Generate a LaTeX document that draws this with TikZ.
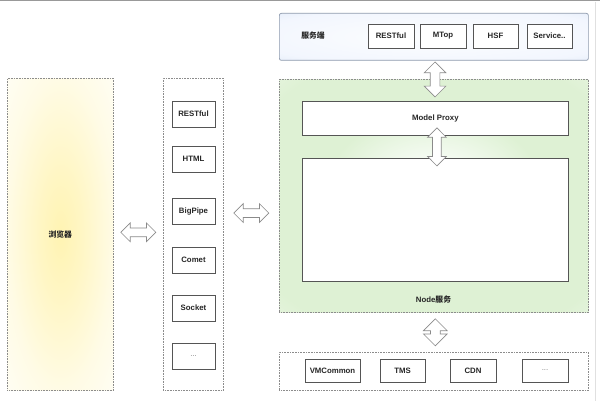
\documentclass[tikz,border=0pt]{standalone}
\usepackage{fontspec}
\setmainfont{Liberation Sans}
\newfontfamily\cjk{Noto Sans CJK SC}
\usetikzlibrary{shapes.arrows,calc}
\definecolor{boxline}{HTML}{555555}
\definecolor{dotline}{HTML}{8C8C8C}
\definecolor{arrowline}{HTML}{8A8A8A}
\definecolor{topline}{HTML}{8E9AAD}
\pgfdeclareradialshading{yellowglow}{\pgfpoint{0bp}{0bp}}{%
  rgb(0bp)=(1,0.955,0.7);rgb(10bp)=(1,0.965,0.77);rgb(25bp)=(1,0.985,0.9);rgb(38bp)=(1,0.996,0.965);rgb(50bp)=(1,1,0.985)}
\pgfdeclareradialshading{greenglow}{\pgfpoint{0bp}{0bp}}{%
  rgb(0bp)=(1,1,1);rgb(8bp)=(0.96,0.985,0.95);rgb(18bp)=(0.87,0.945,0.83);rgb(32bp)=(0.87,0.945,0.83);rgb(42bp)=(0.93,0.97,0.91);rgb(50bp)=(0.98,0.99,0.975)}
\pgfdeclareradialshading{blueglow}{\pgfpoint{0bp}{0bp}}{%
  rgb(0bp)=(0.99,0.995,1);rgb(30bp)=(0.95,0.965,0.995);rgb(42bp)=(0.87,0.91,0.97);rgb(50bp)=(0.83,0.88,0.95)}
\begin{document}
\begin{tikzpicture}[x=1pt,y=-1pt,
  every node/.style={font=\fontsize{7.8}{9}\selectfont\bfseries, text=black!85},
  smallbox/.style={draw=boxline, line width=0.8pt, fill=white, minimum width=43pt, minimum height=26pt, inner sep=0pt},
  rowbox/.style={draw=boxline, line width=0.8pt, fill=white, minimum width=46pt, minimum height=24pt, inner sep=0pt},
  bigbox/.style={draw=boxline, line width=0.8pt, fill=white, inner sep=0pt, anchor=north west},
  container/.style={draw=dotline, densely dotted, line width=0.6pt, inner sep=0pt, anchor=north west},
  harrow/.style={double arrow, draw=arrowline, fill=white, line width=0.7pt, inner sep=4pt, double arrow head extend=5pt, minimum height=35pt},
  varrow/.style={harrow, shape border rotate=90}
]
\useasboundingbox (0,0) rectangle (600,401);
\fill[white] (0,0) rectangle (600,401);
\draw[draw=black!40, line width=1.5pt] (0,0.75) -- (600,0.75);
\draw[draw=black!12, line width=0.6pt] (595,2) -- (595,401);

% containers
\node[container, minimum width=106pt, minimum height=312pt, shading=yellowglow] (browser) at (7,78) {};
\node at (browser.center) {\cjk 浏览器};
\node[container, minimum width=60pt, minimum height=312pt, fill=white] (mid) at (163,78) {};
\node[draw=topline, line width=0.7pt, rounded corners=2pt, inner sep=0pt, anchor=north west, minimum width=309pt, minimum height=47pt, shading=blueglow] (srv) at (279,13) {};
\node at (313,36) {\cjk 服务端};
\node[container, minimum width=309pt, minimum height=233pt, shading=greenglow] (green) at (279,79) {};
\node[container, minimum width=309pt, minimum height=38pt, fill=white] (bot) at (279,352) {};

% middle column
\node[smallbox] (m1) at (193.5,114) {RESTful};
\node[smallbox] (m2) at (193.5,159) {HTML};
\node[smallbox] (m3) at (193.5,211) {BigPipe};
\node[smallbox] (m4) at (193.5,260) {Comet};
\node[smallbox] (m5) at (193.5,308) {Socket};
\node[smallbox] (m6) at (193.5,356) {\textmd{\color{black!50}...}};

% service row
\node[rowbox] (s1) at (391,36) {RESTful};
\node[rowbox] (s2) at (443,36) {MTop};
\node[rowbox, minimum width=45pt] (s3) at (495.5,36) {HSF};
\node[rowbox, minimum width=45pt] (s4) at (549.5,36) {Service..};

% node service
\node[bigbox, minimum width=266pt, minimum height=34pt] (proxy) at (302,101) {};
\node at (proxy.center) {Model Proxy};
\node[bigbox, minimum width=266pt, minimum height=123pt] (inner) at (302,158) {};
\node at (433.5,300) {Node{\cjk 服务}};

% bottom row
\node[rowbox, minimum width=55pt, minimum height=23pt] (b1) at (332.5,370.5) {VMCommon};
\node[rowbox, minimum width=45pt, minimum height=23pt] (b2) at (402.5,370.5) {TMS};
\node[rowbox, minimum height=23pt] (b3) at (473,370.5) {CDN};
\node[rowbox, minimum height=23pt] (b4) at (545,370.5) {\textmd{\color{black!50}...}};

% arrows
\node[harrow] (a1) at ($(browser.east)!0.5!(mid.west)+(0,-2)$) {};
\node[harrow] (a2) at ($(mid.east)!0.5!(green.west)+(0,-2)$) {};
\node[varrow, minimum height=35pt, double arrow head extend=6pt, inner sep=4.5pt] (a3) at (435,79.5) {};
\node[varrow, minimum height=38pt, double arrow head extend=5pt] (a4) at ($(proxy.south)!0.5!(inner.north)+(1.5,0)$) {};
\node[varrow, minimum height=27pt, double arrow head extend=7pt, inner sep=4.5pt] (a5) at ($(green.south)!0.5!(bot.north)+(1.5,0)$) {};
\end{tikzpicture}
\end{document}
